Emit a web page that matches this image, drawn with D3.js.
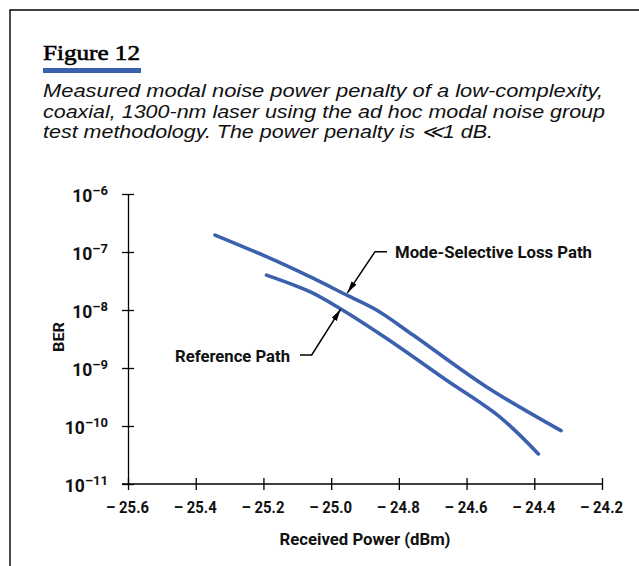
<!doctype html>
<html lang="en">
<head>
<meta charset="utf-8">
<title>Figure 12</title>
<script src="https://d3js.org/d3.v7.min.js"></script>
<style>
  body { margin: 0; background: #fff; }
  .cond { font-family: Roboto, "Liberation Sans", sans-serif; font-weight: bold; }
</style>
</head>
<body>
<svg width="639" height="566"></svg>
<script>
// Mode-Selective Loss Path
var powerMSL = [-25.343, -25.191, -25.063, -24.955, -24.866, -24.758, -24.542, -24.321];
var berMSL   = [1.96e-7, 8.3e-8, 3.75e-8, 1.82e-8, 1.0e-8, 3.7e-9, 4.76e-10, 8.3e-11];

// Reference Path
var powerRef = [-25.191, -25.063, -24.975, -24.837, -24.660, -24.503, -24.388];
var berRef   = [4.0e-8, 2.07e-8, 1.07e-8, 3.25e-9, 6.2e-10, 1.45e-10, 3.3e-11];

var xTicks = [-25.6, -25.4, -25.2, -25.0, -24.8, -24.6, -24.4, -24.2];
var yExps  = [-6, -7, -8, -9, -10, -11];

var title = "Figure 12";
var caption = [
  "Measured modal noise power penalty of a low-complexity,",
  "coaxial, 1300-nm laser using the ad hoc modal noise group",
  "test methodology. The power penalty is \u226A1 dB."
];

var blue = "#3b60ae";
var svg = d3.select("svg");

// frame
svg.append("path")
  .attr("d", "M10,566 V10 H639")
  .attr("fill", "none").attr("stroke", "#000").attr("stroke-width", 1.4);

// heading
svg.append("text")
  .attr("x", 43).attr("y", 60)
  .attr("font-family", "'Liberation Serif', 'DejaVu Serif', serif")
  .attr("font-size", 21.5)
  .attr("stroke", "#000").attr("stroke-width", 0.6)
  .attr("textLength", 97).attr("lengthAdjust", "spacingAndGlyphs")
  .text(title);
svg.append("rect")
  .attr("x", 43).attr("y", 68).attr("width", 98).attr("height", 5)
  .attr("fill", blue);

var capLens = [560, 562, 450];
svg.append("g").selectAll("text")
  .data(caption)
  .enter()
  .append("text")
  .attr("x", 43)
  .attr("y", function(d, i) { return 97 + i * 20.6; })
  .attr("font-family", "'Liberation Sans', Arial, sans-serif")
  .attr("font-style", "italic")
  .attr("font-size", 18.5)
  .attr("fill", "#111")
  .attr("textLength", function(d, i) { return capLens[i]; })
  .attr("lengthAdjust", "spacingAndGlyphs")
  .text(function(d) { return d; });

// scales
var x = d3.scaleLinear().domain([-25.6, -24.2]).range([128, 602]);
var y = d3.scaleLog().domain([1e-11, 1e-6]).range([484, 194]);

// y axis
var gy = svg.append("g")
  .attr("transform", "translate(128,0)")
  .call(d3.axisLeft(y).tickValues(yExps.map(function(e) { return Math.pow(10, e); })).tickSizeOuter(0).tickSizeInner(6).tickPadding(14));
gy.select(".domain").attr("stroke-width", 1.3);
gy.selectAll(".tick line").attr("x1", -6).attr("x2", 6).attr("stroke-width", 1.3);
gy.selectAll(".tick text")
  .attr("class", "cond")
  .attr("font-size", 17.5)
  .attr("fill", "#111")
  .attr("dy", "0.45em")
  .each(function(d, i) {
    var t = d3.select(this).text("10");
    t.append("tspan")
      .attr("dy", -7)
      .attr("font-size", 13)
      .text("\u2013" + (-yExps[i]));
  });

// x axis
var gx = svg.append("g")
  .attr("transform", "translate(0,484)")
  .call(d3.axisBottom(x).tickValues(xTicks).tickSizeOuter(0).tickSizeInner(6).tickPadding(11)
    .tickFormat(function(d) { return "\u2013 " + Math.abs(d).toFixed(1); }));
gx.select(".domain").attr("d", "M122,0H602").attr("stroke-width", 1.3);
gx.selectAll(".tick line").attr("y1", -6).attr("y2", 6).attr("stroke-width", 1.3);
gx.selectAll(".tick text")
  .attr("class", "cond")
  .attr("font-size", 16.5)
  .attr("fill", "#111")
  .attr("x", -1)
  .attr("textLength", 43).attr("lengthAdjust", "spacingAndGlyphs");

// axis titles
svg.append("text")
  .attr("class", "cond")
  .attr("x", 365).attr("y", 545)
  .attr("text-anchor", "middle")
  .attr("font-size", 16)
  .attr("fill", "#111")
  .attr("textLength", 171).attr("lengthAdjust", "spacingAndGlyphs")
  .text("Received Power (dBm)");
svg.append("text")
  .attr("class", "cond")
  .attr("transform", "translate(63.5,337) rotate(-90)")
  .attr("text-anchor", "middle")
  .attr("font-size", 15)
  .attr("fill", "#111")
  .attr("textLength", 30).attr("lengthAdjust", "spacingAndGlyphs")
  .text("BER");

// curves
var line = d3.line()
  .x(function(d) { return x(d[0]); })
  .y(function(d) { return y(d[1]); })
  .curve(d3.curveCatmullRom.alpha(0.5));

svg.append("path")
  .datum(d3.zip(powerMSL, berMSL))
  .attr("d", line)
  .attr("fill", "none").attr("stroke", blue)
  .attr("stroke-width", 3.6).attr("stroke-linecap", "round");
svg.append("path")
  .datum(d3.zip(powerRef, berRef))
  .attr("d", line)
  .attr("fill", "none").attr("stroke", blue)
  .attr("stroke-width", 3.6).attr("stroke-linecap", "round");

// callouts
svg.append("defs").append("marker")
  .attr("id", "arr")
  .attr("viewBox", "0 0 12 6")
  .attr("refX", 12).attr("refY", 3)
  .attr("markerWidth", 12).attr("markerHeight", 6)
  .attr("markerUnits", "userSpaceOnUse")
  .attr("orient", "auto")
  .append("path").attr("d", "M0,0L12,3L0,6Z").attr("fill", "#000");

// Mode-Selective Loss Path label
var mx = x(-24.955), my = y(1.82e-8);
svg.append("path")
  .attr("d", "M387," + 251.7 + "H375L" + (mx + 1) + "," + (my - 2))
  .attr("fill", "none").attr("stroke", "#000").attr("stroke-width", 1.5)
  .attr("marker-end", "url(#arr)");
svg.append("text")
  .attr("class", "cond")
  .attr("x", 395).attr("y", 258.3)
  .attr("font-size", 17)
  .attr("fill", "#111")
  .attr("textLength", 197).attr("lengthAdjust", "spacingAndGlyphs")
  .text("Mode-Selective Loss Path");

// Reference Path label
var rx = x(-24.975), ry = y(1.07e-8);
svg.append("path")
  .attr("d", "M300,355H311.7L" + (rx + 1) + "," + (ry + 1))
  .attr("fill", "none").attr("stroke", "#000").attr("stroke-width", 1.5)
  .attr("marker-end", "url(#arr)");
svg.append("text")
  .attr("class", "cond")
  .attr("x", 290).attr("y", 361.5)
  .attr("text-anchor", "end")
  .attr("font-size", 17)
  .attr("fill", "#111")
  .attr("textLength", 115).attr("lengthAdjust", "spacingAndGlyphs")
  .text("Reference Path");
</script>
</body>
</html>
